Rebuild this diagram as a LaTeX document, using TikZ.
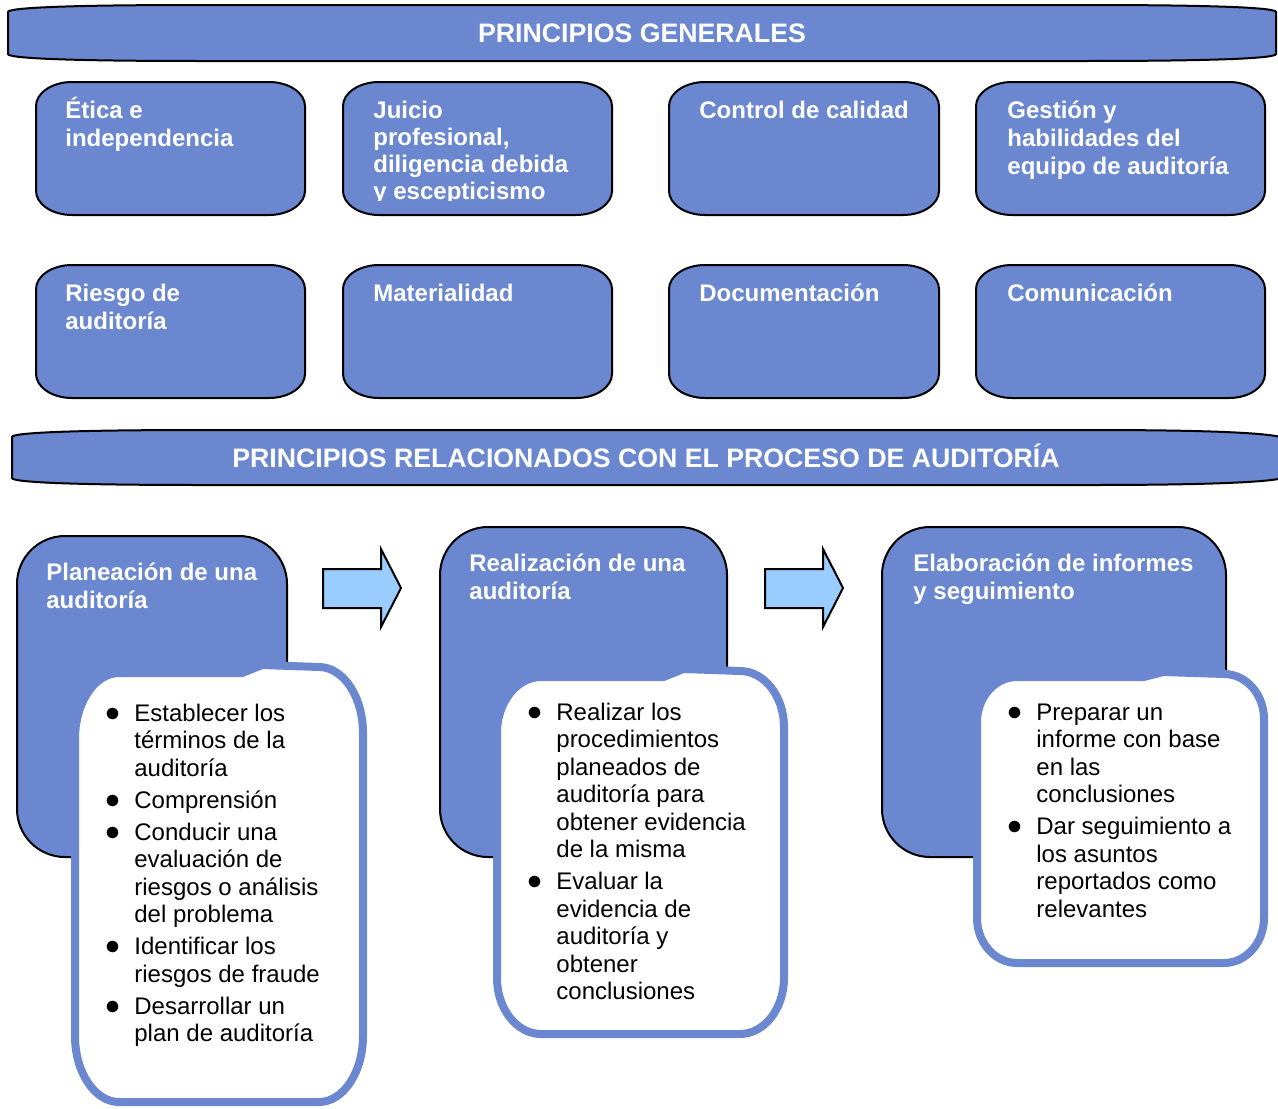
\documentclass[tikz,border=0pt]{standalone}
\usepackage{fontspec}
\setmainfont{Liberation Sans}
\usepackage{xcolor}
\usetikzlibrary{calc}

\definecolor{boxblue}{HTML}{6A87D0}
\definecolor{arrowblue}{HTML}{99CCFF}

\tikzset{
  bluebox/.style={draw=black, line width=1pt, fill=boxblue},
  bandtext/.style={text=white, font=\fontsize{13.35}{15}\selectfont\bfseries, inner sep=0pt},
  boxtext/.style={text=white, font=\fontsize{12}{14.2}\selectfont\bfseries, inner sep=0pt, anchor=base west},
  notebox/.style={draw=boxblue, line width=4pt, fill=white, line join=round},
  notetext/.style={font=\fontsize{12}{13.75}\selectfont, inner sep=0pt, anchor=base west},
  flowarrow/.style={draw=black, line width=1pt, fill=arrowblue, line join=miter},
}

% multi-line text, first baseline = node baseline
\newcommand{\lines}[1]{\begin{tabular}[t]{@{}l@{}}#1\end{tabular}}
\newcommand{\bullets}[1]{\begin{tabular}[t]{@{}l@{\hspace{7pt}}l@{}}#1\end{tabular}}
\newcommand{\itm}{\scalebox{1.25}{$\bullet$}}

% box with oval corners: x1, y1, x2, y2
\newcommand{\ovalbox}[4]{%
  \draw[bluebox] ({#1+36},#2) -- ({#3-36},#2)
    .. controls ({#3-16},#2) and (#3,{#2+11}) .. (#3,{#2+24})
    -- (#3,{#4-24})
    .. controls (#3,{#4-11}) and ({#3-16},#4) .. ({#3-36},#4)
    -- ({#1+36},#4)
    .. controls ({#1+16},#4) and (#1,{#4-11}) .. (#1,{#4-24})
    -- (#1,{#2+24})
    .. controls (#1,{#2+11}) and ({#1+16},#2) .. ({#1+36},#2) -- cycle;
}

% white list box with a small bump on top: x1, ytop left, ytop right, x2, y2, rx, ry
\newcommand{\calloutbox}[7]{%
  \draw[notebox] (#1,{#2+#7})
    .. controls (#1,{#2+0.45*#7}) and ({#1+0.45*#6},#2) .. ({#1+#6},#2)
    -- ({#1+0.58*(#4-#1)},#2)
    -- ({#1+0.65*(#4-#1)},{#3-2})
    -- ({#4-#6},#3)
    .. controls ({#4-0.45*#6},#3) and (#4,{#3+0.45*#7}) .. (#4,{#3+#7})
    -- (#4,{#5-#7})
    .. controls (#4,{#5-0.45*#7}) and ({#4-0.45*#6},#5) .. ({#4-#6},#5)
    -- ({#1+#6},#5)
    .. controls ({#1+0.45*#6},#5) and (#1,{#5-0.45*#7}) .. (#1,{#5-#7})
    -- cycle;
}

\begin{document}
\begin{tikzpicture}[x=0.5pt, y=-0.5pt]

    \useasboundingbox (0,0) rectangle (1278,1108);

    % Top banner
    \draw[bluebox] (8,12) .. controls (8,8) and (60,5) .. (200,5) -- (1084,5)
        .. controls (1224,5) and (1276,8) .. (1276,12) -- (1276,54)
        .. controls (1276,58) and (1224,61) .. (1084,61) -- (200,61)
        .. controls (60,61) and (8,58) .. (8,54) -- cycle;
    \node[bandtext] (gen) at (642,33) {PRINCIPIOS GENERALES};

    % General principles, first row
    \ovalbox{36}{82}{305}{215}
    \ovalbox{343}{82}{612}{215}
    \ovalbox{669}{82}{939}{215}
    \ovalbox{976}{82}{1265}{215}
    \node[boxtext] (etica) at (65,118) {\lines{Ética e\\independencia}};
    \begin{scope}
        \clip (343,82) rectangle (612,200);
        \node[boxtext, font=\fontsize{12}{13.5}\selectfont\bfseries] (juicio) at (373,118)
            {\lines{Juicio\\profesional,\\diligencia debida\\y escepticismo}};
    \end{scope}
    \node[boxtext] (calidad) at (699,118) {\lines{Control de calidad}};
    \node[boxtext] (gestion) at (1007,118) {\lines{Gestión y\\habilidades del\\equipo de auditoría}};

    % General principles, second row
    \ovalbox{36}{265}{305}{398}
    \ovalbox{343}{265}{612}{398}
    \ovalbox{669}{265}{939}{398}
    \ovalbox{976}{265}{1265}{398}
    \node[boxtext] (riesgo) at (65,301) {\lines{Riesgo de\\auditoría}};
    \node[boxtext] (mat) at (373,301) {\lines{Materialidad}};
    \node[boxtext] (doc) at (699,301) {\lines{Documentación}};
    \node[boxtext] (com) at (1007,301) {\lines{Comunicación}};

    % Second banner
    \draw[bluebox] (12,437) .. controls (12,433) and (64,430) .. (204,430) -- (1090,430)
        .. controls (1230,430) and (1286,434) .. (1286,440) -- (1286,476)
        .. controls (1286,481) and (1230,485) .. (1090,485) -- (204,485)
        .. controls (64,485) and (12,482) .. (12,478) -- cycle;
    \node[bandtext] (proc) at (646,456) {PRINCIPIOS RELACIONADOS CON EL PROCESO DE AUDITORÍA};

    % Process stages
    \draw[bluebox, rounded corners=24pt] (17,536) rectangle (287,857);
    \draw[bluebox, rounded corners=24pt] (440,527) rectangle (727,857);
    \draw[bluebox, rounded corners=24pt] (882,527) rectangle (1226,857);
    \node[boxtext] (plan) at (46,580) {\lines{Planeación de una\\auditoría}};
    \node[boxtext] (real) at (469,571) {\lines{Realización de una\\auditoría}};
    \node[boxtext] (elab) at (913,571) {\lines{Elaboración de informes\\y seguimiento}};

    % Block arrows
    \draw[flowarrow] (323,569) -- (381,569) -- (381,549) -- (401,588)
        -- (381,627) -- (381,608) -- (323,608) -- cycle;
    \draw[flowarrow] (765,569) -- (823,569) -- (823,549) -- (843,588)
        -- (823,627) -- (823,608) -- (765,608) -- cycle;

    % White lists
    \calloutbox{75}{673}{667}{363}{1102}{44}{66}
    \calloutbox{497}{677}{671}{784}{1034}{44}{56}
    \calloutbox{977}{677}{674}{1264}{963}{40}{45}

    \node[notetext] (listplan) at (105,721) {\bullets{%
        \itm & Establecer los\\ & términos de la\\ & auditoría\\[2.25pt]
        \itm & Comprensión\\[2.25pt]
        \itm & Conducir una\\ & evaluación de\\ & riesgos o análisis\\ & del problema\\[2.25pt]
        \itm & Identificar los\\ & riesgos de fraude\\[2.25pt]
        \itm & Desarrollar un\\ & plan de auditoría}};

    \node[notetext] (listreal) at (527,720) {\bullets{%
        \itm & Realizar los\\ & procedimientos\\ & planeados de\\ & auditoría para\\ & obtener evidencia\\ & de la misma\\[2.25pt]
        \itm & Evaluar la\\ & evidencia de\\ & auditoría y\\ & obtener\\ & conclusiones}};

    \node[notetext] (listelab) at (1007,720) {\bullets{%
        \itm & Preparar un\\ & informe con base\\ & en las\\ & conclusiones\\[2.25pt]
        \itm & Dar seguimiento a\\ & los asuntos\\ & reportados como\\ & relevantes}};

\end{tikzpicture}
\end{document}
